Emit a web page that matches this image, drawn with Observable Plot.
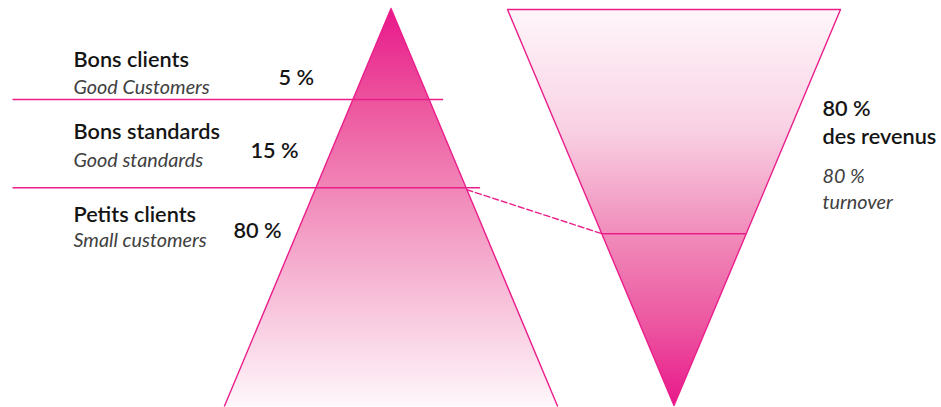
<!DOCTYPE html>
<html>
<head>
<meta charset="utf-8">
<script src="https://cdn.jsdelivr.net/npm/d3@7"></script>
<script src="https://cdn.jsdelivr.net/npm/@observablehq/plot@0.6"></script>
<style>
  html, body { margin: 0; padding: 0; background: #fff; }
  #chart svg { display: block; }
</style>
</head>
<body>
<div id="chart"></div>
<script>
// ---- data ----
const tiersFr = ["Bons clients", "Bons standards", "Petits clients"];
const tiersEn = ["Good Customers", "Good standards", "Small customers"];
const tierShare = [5, 15, 80];               // % of customers
const dividerDepth = [0.229, 0.451];         // divider level as fraction of pyramid height (apex = 0)
const revenueShare = 80;                     // % of turnover
const revenueDepth = 0.566;                  // divider level in the funnel (top = 0)
const revenueFr = ["des revenus"];
const revenueEn = ["turnover"];

// ---- layout ----
const W = 941, H = 407;
const pyr = {cx: 390.5, top: 8, bottom: 405.5, half: 166.5};
const fun = {cx: 673.5, top: 9, bottom: 405, half: 166.5};
const pyrY = d => pyr.top + d * (pyr.bottom - pyr.top);
const pyrHalf = y => pyr.half * (y - pyr.top) / (pyr.bottom - pyr.top);
const funY = d => fun.top + d * (fun.bottom - fun.top);
const funHalf = y => fun.half * (fun.bottom - y) / (fun.bottom - fun.top);

const pyrPoly = [
  {x: pyr.cx - pyr.half, y: pyr.bottom}, {x: pyr.cx, y: pyr.top}, {x: pyr.cx + pyr.half, y: pyr.bottom}
];
const funPoly = [
  {x: fun.cx - fun.half, y: fun.top}, {x: fun.cx + fun.half, y: fun.top}, {x: fun.cx, y: fun.bottom}, {x: fun.cx - fun.half, y: fun.top}
];

const dividers = dividerDepth.map(d => {
  const y = pyrY(d);
  return {x1: 12, x2: pyr.cx + pyrHalf(y) + 14, y};
});
const revY = funY(revenueDepth);
const revLine = [{x1: fun.cx - funHalf(revY), x2: fun.cx + funHalf(revY), y: revY}];
const dashStartY = dividers[1].y + 2;
const dash = [
  {x: pyr.cx + pyrHalf(dashStartY), y: dashStartY},
  {x: fun.cx - funHalf(revY), y: revY}
];

const titleBase = [66, 138, 221];
const subBase = [93, 166, 246];
const shareBase = [84, 157, 237];
const shareX = [278, 250, 233];
const labelX = 73;

const titles = tiersFr.map((t, i) => ({t, x: labelX, y: titleBase[i]}));
const subs = tiersEn.map((t, i) => ({t, x: labelX, y: subBase[i]}));
const shares = tierShare.map((v, i) => ({t: `${v} %`, x: shareX[i], y: shareBase[i]}));
const rightBold = [{t: `${revenueShare} %`, y: 115}, {t: revenueFr[0], y: 143}].map(d => ({...d, x: 822}));
const rightIt = [{t: `${revenueShare} %`, y: 182}, {t: revenueEn[0], y: 208}].map(d => ({...d, x: 822}));

const PINK = "#ea1e8b";
const FONT = "Lato, 'Open Sans', sans-serif";

const boldText = (data) => Plot.text(data, {
  x: "x", y: "y", text: "t", textAnchor: "start", lineAnchor: "bottom",
  fontSize: 21.7, fontWeight: 600, fill: "#151515", fontFamily: FONT
});
const italicText = (data) => Plot.text(data, {
  x: "x", y: "y", text: "t", textAnchor: "start", lineAnchor: "bottom",
  fontSize: 19.8, fontStyle: "italic", fill: "#404040", fontFamily: FONT
});

const svg = Plot.plot({
  width: W, height: H,
  margin: 0,
  x: {domain: [0, W], range: [0, W], axis: null},
  y: {domain: [0, H], range: [0, H], axis: null},
  style: {background: "#fff", overflow: "visible"},
  marks: [
    Plot.line(pyrPoly, {x: "x", y: "y", fill: "url(#gradUp)", stroke: "none"}),
    Plot.line(funPoly, {x: "x", y: "y", fill: "url(#gradDown)", stroke: "none"}),
    Plot.line(pyrPoly, {x: "x", y: "y", stroke: PINK, strokeWidth: 1.4}),
    Plot.line(funPoly, {x: "x", y: "y", stroke: PINK, strokeWidth: 1.4}),
    Plot.link(dividers, {x1: "x1", x2: "x2", y1: "y", y2: "y", stroke: PINK, strokeWidth: 1.5}),
    Plot.link(revLine, {x1: "x1", x2: "x2", y1: "y", y2: "y", stroke: PINK, strokeWidth: 1.5}),
    Plot.line(dash, {x: "x", y: "y", stroke: PINK, strokeWidth: 1.4, strokeDasharray: "6,3"}),
    boldText(titles),
    italicText(subs),
    boldText(shares),
    boldText(rightBold),
    italicText(rightIt)
  ]
});

const defs = d3.select(svg).insert("defs", ":first-child");
const gUp = defs.append("linearGradient").attr("id", "gradUp").attr("x1", 0).attr("y1", 0).attr("x2", 0).attr("y2", 1);
[[0, "#e8188a"], [0.25, "#ed589f"], [0.5, "#f290bd"], [0.75, "#f8c4dc"], [1, "#fef7fb"]]
  .forEach(([o, c]) => gUp.append("stop").attr("offset", o).attr("stop-color", c));
const gDown = defs.append("linearGradient").attr("id", "gradDown").attr("x1", 0).attr("y1", 0).attr("x2", 0).attr("y2", 1);
[[0, "#fef6fa"], [0.3, "#f9d2e4"], [0.566, "#f08cba"], [0.8, "#ec55a0"], [1, "#e8188a"]]
  .forEach(([o, c]) => gDown.append("stop").attr("offset", o).attr("stop-color", c));

document.getElementById("chart").appendChild(svg);
</script>
</body>
</html>
